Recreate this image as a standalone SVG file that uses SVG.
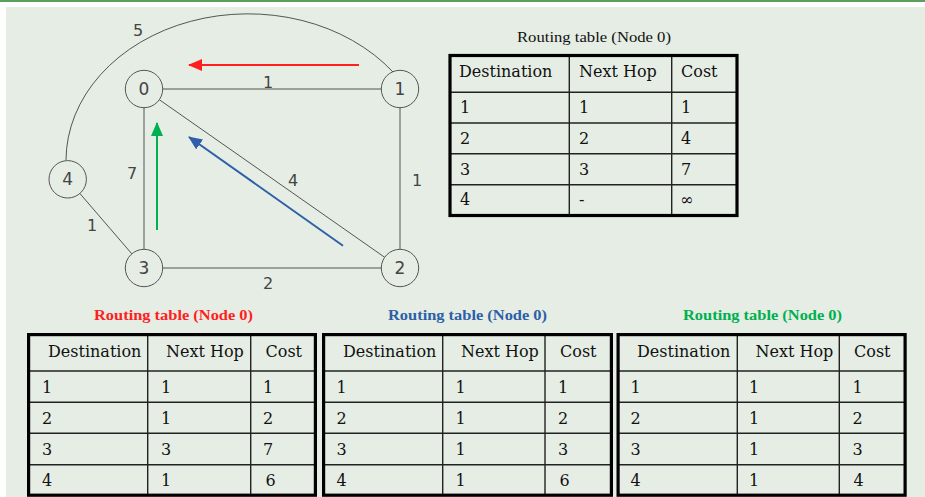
<svg xmlns="http://www.w3.org/2000/svg" width="925" height="497" viewBox="0 0 925 497">
<style>
.node circle{fill:none;stroke:#555;stroke-width:1}
.node text{font-family:"DejaVu Sans","Liberation Sans",sans-serif;font-size:17px;fill:#444;text-anchor:middle}
.edge{stroke:#555;stroke-width:1;fill:none}
.elabel{font-family:"DejaVu Sans","Liberation Sans",sans-serif;font-size:16px;fill:#444;text-anchor:middle}
.outer{fill:none;stroke:#000;stroke-width:3.2}
.grid{stroke:#222;stroke-width:1.4}
.t{font-family:"DejaVu Serif","Liberation Serif",serif;font-size:16px;fill:#111}
.title{font-family:"Liberation Serif","DejaVu Serif",serif;font-size:15.5px;text-anchor:middle}
</style>
<defs>
<marker id="ahR" markerUnits="userSpaceOnUse" markerWidth="14" markerHeight="12" refX="13" refY="6" orient="auto"><path d="M0,0 L14,6 L0,12 Z" fill="#ff1f1f"/></marker>
<marker id="ahG" markerUnits="userSpaceOnUse" markerWidth="14" markerHeight="12" refX="13" refY="6" orient="auto"><path d="M0,0 L14,6 L0,12 Z" fill="#00b050"/></marker>
<marker id="ahB" markerUnits="userSpaceOnUse" markerWidth="14" markerHeight="12" refX="13" refY="6" orient="auto"><path d="M0,0 L14,6 L0,12 Z" fill="#2e5fa8"/></marker>
</defs>
<rect x="0" y="0" width="925" height="497" fill="#fff"/>
<rect x="0" y="0" width="925" height="2" fill="#5c9f5c"/>
<rect x="6" y="7" width="919" height="490" fill="#e5ede4"/>

<g id="connectors">
<path class="edge" d="M66,160 A182,147 0 0 1 393,72"/>
<line class="edge" x1="163" y1="89" x2="381" y2="89"/>
<line class="edge" x1="144" y1="108" x2="144" y2="249"/>
<line class="edge" x1="400" y1="108" x2="400" y2="249"/>
<line class="edge" x1="163" y1="268" x2="381" y2="268"/>
<line class="edge" x1="159.3" y1="99.7" x2="384.7" y2="257.3"/>
<line class="edge" x1="79.9" y1="193.5" x2="131.8" y2="253.8"/>
<text class="elabel" x="138" y="36">5</text>
<text class="elabel" x="268" y="88">1</text>
<text class="elabel" x="132" y="179">7</text>
<text class="elabel" x="293" y="186">4</text>
<text class="elabel" x="417" y="186">1</text>
<text class="elabel" x="92" y="231">1</text>
<text class="elabel" x="268" y="289">2</text>
<line x1="359" y1="65" x2="189" y2="65" stroke="#ff1f1f" stroke-width="2" marker-end="url(#ahR)"/>
<line x1="157" y1="230" x2="157" y2="123" stroke="#00b050" stroke-width="2" marker-end="url(#ahG)"/>
<line x1="343" y1="245.7" x2="189" y2="137" stroke="#2e5fa8" stroke-width="2" marker-end="url(#ahB)"/>
</g>

<g id="node0" class="node"><circle cx="144" cy="89" r="18.7"/><text x="144" y="95">0</text></g>
<g id="node1" class="node"><circle cx="400" cy="89" r="18.7"/><text x="400" y="95">1</text></g>
<g id="node2" class="node"><circle cx="400" cy="268" r="18.7"/><text x="400" y="274">2</text></g>
<g id="node3" class="node"><circle cx="144" cy="268" r="18.7"/><text x="144" y="274">3</text></g>
<g id="node4" class="node"><circle cx="67.7" cy="179.3" r="18.7"/><text x="67.7" y="185.3">4</text></g>

<g id="table-initial">
<text class="title" x="594" y="42" fill="#111" textLength="154" lengthAdjust="spacingAndGlyphs">Routing table (Node 0)</text>
<line class="grid" x1="449" y1="92.3" x2="738" y2="92.3"/>
<line class="grid" x1="449" y1="123" x2="738" y2="123"/>
<line class="grid" x1="449" y1="153.7" x2="738" y2="153.7"/>
<line class="grid" x1="449" y1="184.7" x2="738" y2="184.7"/>
<line class="grid" x1="569.3" y1="54" x2="569.3" y2="217"/>
<line class="grid" x1="671.7" y1="54" x2="671.7" y2="217"/>
<rect class="outer" x="450" y="55.5" width="287" height="160"/>
<text class="t" x="459" y="77">Destination</text><text class="t" x="579" y="77">Next Hop</text><text class="t" x="681" y="77">Cost</text>
<text class="t" x="460" y="113.3">1</text><text class="t" x="579" y="113.3">1</text><text class="t" x="681" y="113.3">1</text>
<text class="t" x="460" y="144">2</text><text class="t" x="579" y="144">2</text><text class="t" x="681" y="144">4</text>
<text class="t" x="460" y="174.5">3</text><text class="t" x="579" y="174.5">3</text><text class="t" x="681" y="174.5">7</text>
<text class="t" x="460" y="205">4</text><text class="t" x="579" y="205" fill="#aaa">-</text><text class="t" x="680" y="205" font-size="20">∞</text>
</g>

<g id="table-red">
<text class="title" x="173.5" y="320" fill="#ff1f1f" font-weight="bold" textLength="159" lengthAdjust="spacingAndGlyphs">Routing table (Node 0)</text>
<line class="grid" x1="28" y1="371" x2="316" y2="371"/>
<line class="grid" x1="28" y1="402.3" x2="316" y2="402.3"/>
<line class="grid" x1="28" y1="433.3" x2="316" y2="433.3"/>
<line class="grid" x1="28" y1="464.7" x2="316" y2="464.7"/>
<line class="grid" x1="147.7" y1="334" x2="147.7" y2="496"/>
<line class="grid" x1="250.7" y1="334" x2="250.7" y2="496"/>
<rect class="outer" x="28.6" y="334.6" width="286.8" height="160.6"/>
<text class="t" x="48" y="357.3">Destination</text><text class="t" x="166" y="357.3">Next Hop</text><text class="t" x="265.5" y="357.3">Cost</text>
<text class="t" x="42" y="392.7">1</text><text class="t" x="161" y="392.7">1</text><text class="t" x="263" y="392.7">1</text>
<text class="t" x="42" y="424">2</text><text class="t" x="161" y="424">1</text><text class="t" x="263" y="424">2</text>
<text class="t" x="42" y="455">3</text><text class="t" x="161" y="455">3</text><text class="t" x="263" y="455">7</text>
<text class="t" x="42" y="485.7">4</text><text class="t" x="161" y="485.7">1</text><text class="t" x="265.5" y="485.7">6</text>
</g>

<g id="table-blue">
<text class="title" x="467.5" y="320" fill="#2e5fa8" font-weight="bold" textLength="159" lengthAdjust="spacingAndGlyphs">Routing table (Node 0)</text>
<line class="grid" x1="323" y1="371" x2="612" y2="371"/>
<line class="grid" x1="323" y1="402.3" x2="612" y2="402.3"/>
<line class="grid" x1="323" y1="433.3" x2="612" y2="433.3"/>
<line class="grid" x1="323" y1="464.7" x2="612" y2="464.7"/>
<line class="grid" x1="442.7" y1="334" x2="442.7" y2="496"/>
<line class="grid" x1="545" y1="334" x2="545" y2="496"/>
<rect class="outer" x="323.6" y="334.6" width="287.8" height="160.6"/>
<text class="t" x="343" y="357.3">Destination</text><text class="t" x="461" y="357.3">Next Hop</text><text class="t" x="560" y="357.3">Cost</text>
<text class="t" x="336.5" y="392.7">1</text><text class="t" x="455.5" y="392.7">1</text><text class="t" x="558" y="392.7">1</text>
<text class="t" x="336.5" y="424">2</text><text class="t" x="455.5" y="424">1</text><text class="t" x="558" y="424">2</text>
<text class="t" x="336.5" y="455">3</text><text class="t" x="455.5" y="455">1</text><text class="t" x="558" y="455">3</text>
<text class="t" x="336.5" y="485.7">4</text><text class="t" x="455.5" y="485.7">1</text><text class="t" x="559.5" y="485.7">6</text>
</g>

<g id="table-green">
<text class="title" x="762.5" y="320" fill="#00b050" font-weight="bold" textLength="159" lengthAdjust="spacingAndGlyphs">Routing table (Node 0)</text>
<line class="grid" x1="617" y1="371" x2="906" y2="371"/>
<line class="grid" x1="617" y1="402.3" x2="906" y2="402.3"/>
<line class="grid" x1="617" y1="433.3" x2="906" y2="433.3"/>
<line class="grid" x1="617" y1="464.7" x2="906" y2="464.7"/>
<line class="grid" x1="737.3" y1="334" x2="737.3" y2="496"/>
<line class="grid" x1="839.3" y1="334" x2="839.3" y2="496"/>
<rect class="outer" x="618.1" y="334.6" width="287" height="160.6"/>
<text class="t" x="637" y="357.3">Destination</text><text class="t" x="755.5" y="357.3">Next Hop</text><text class="t" x="854" y="357.3">Cost</text>
<text class="t" x="630.5" y="392.7">1</text><text class="t" x="749" y="392.7">1</text><text class="t" x="852.5" y="392.7">1</text>
<text class="t" x="630.5" y="424">2</text><text class="t" x="749" y="424">1</text><text class="t" x="852.5" y="424">2</text>
<text class="t" x="630.5" y="455">3</text><text class="t" x="749" y="455">1</text><text class="t" x="852.5" y="455">3</text>
<text class="t" x="630.5" y="485.7">4</text><text class="t" x="749" y="485.7">1</text><text class="t" x="853.5" y="485.7">4</text>
</g>
</svg>
